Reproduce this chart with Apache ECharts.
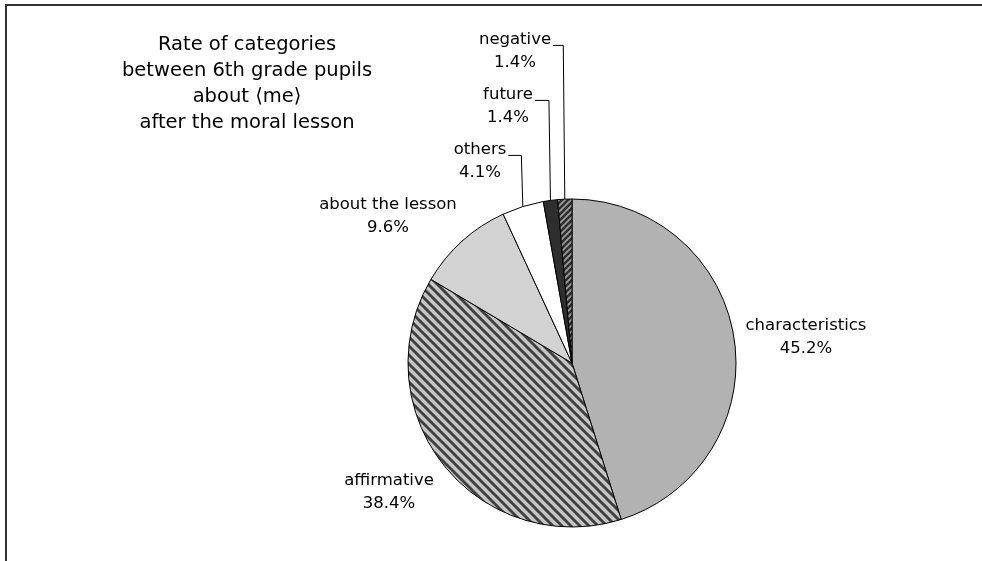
<!DOCTYPE html>
<html>
<head>
<meta charset="utf-8">
<script src="https://cdn.jsdelivr.net/npm/echarts@6/dist/echarts.min.js"></script>
<style>
  html, body { margin: 0; padding: 0; background: #fff; }
  #frame { position: absolute; left: 5px; top: 4px; width: 990px; height: 570px;
           border-top: 2px solid #333; border-left: 2px solid #333; box-sizing: border-box; }
  #chart { position: absolute; left: 0; top: 0; width: 982px; height: 561px; }
</style>
</head>
<body>
<div id="frame"></div>
<div id="chart"></div>
<script>
// ---- data ----
const titleLines = ['Rate of categories', 'between 6th grade pupils', 'about \u27E8me\u27E9', 'after the moral lesson'];
const categories = ['characteristics', 'affirmative', 'about the lesson', 'others', 'future', 'negative'];
const values = [45.2, 38.4, 9.6, 4.1, 1.4, 1.4];

// ---- styles ----
function stripePattern(size, bg, fg, lw, dir) {
  const c = document.createElement('canvas');
  c.width = size; c.height = size;
  const g = c.getContext('2d');
  g.fillStyle = bg; g.fillRect(0, 0, size, size);
  g.strokeStyle = fg; g.lineWidth = lw;
  for (let k = -1; k <= 1; k++) {
    g.beginPath();
    if (dir === 'back') { // "\" direction
      g.moveTo(k * size - 1, -1); g.lineTo(k * size + size + 1, size + 1);
    } else {              // "/" direction
      g.moveTo(k * size - 1, size + 1); g.lineTo(k * size + size + 1, -1);
    }
    g.stroke();
  }
  return { image: c, repeat: 'repeat' };
}
const fills = [
  '#b2b2b2',
  stripePattern(9, '#c6c6c6', '#404040', 2.9, 'back'),
  '#d2d2d2',
  '#ffffff',
  '#2e2e2e',
  stripePattern(6, '#9a9a9a', '#2e2e2e', 2.4, 'fwd')
];
// label anchor spots (centre of each two-line label)
const labelSpots = [[806, 337], [389, 492], [388, 216], [480, 161], [508, 106], [515, 51]];
const withLeader = [false, false, false, true, true, true];

const font = '"DejaVu Sans", "Noto Sans", sans-serif';
const chart = echarts.init(document.getElementById('chart'));
chart.setOption({
  animation: false,
  backgroundColor: 'transparent',
  title: {
    text: titleLines.join('\n'),
    left: 242, top: 27, textAlign: 'center',
    textStyle: { fontFamily: font, fontSize: 19.5, fontWeight: 'normal', color: '#000', lineHeight: 26 }
  },
  series: [{
    type: 'pie',
    center: [572, 363],
    radius: 164,
    startAngle: 90,
    clockwise: true,
    avoidLabelOverlap: false,
    data: categories.map((n, i) => ({
      name: n, value: values[i],
      itemStyle: { color: fills[i] },
      labelLine: { show: withLeader[i] }
    })),
    itemStyle: { borderColor: '#000', borderWidth: 1 },
    label: {
      show: true,
      position: 'outside',
      formatter: p => p.name + '\n' + p.value.toFixed(1) + '%',
      fontFamily: font, fontSize: 16.5, color: '#000', lineHeight: 23, align: 'center'
    },
    labelLine: { show: true, lineStyle: { color: '#000', width: 1 } },
    labelLayout: function (params) {
      const i = params.dataIndex;
      const s = labelSpots[i];
      const w = params.labelRect.width, h = params.labelRect.height;
      const res = { x: s[0], y: s[1], align: 'center', verticalAlign: 'middle' };
      if (withLeader[i] && params.labelLinePoints) {
        const a = params.labelLinePoints[0];
        const ly = s[1] - h * 0.1 - 1;
        const rx = s[0] + w / 2 + 2;
        res.labelLinePoints = [[a[0], a[1]], [a[0] - 1.5, ly], [rx, ly]];
      }
      return res;
    }
  }]
});
</script>
</body>
</html>
